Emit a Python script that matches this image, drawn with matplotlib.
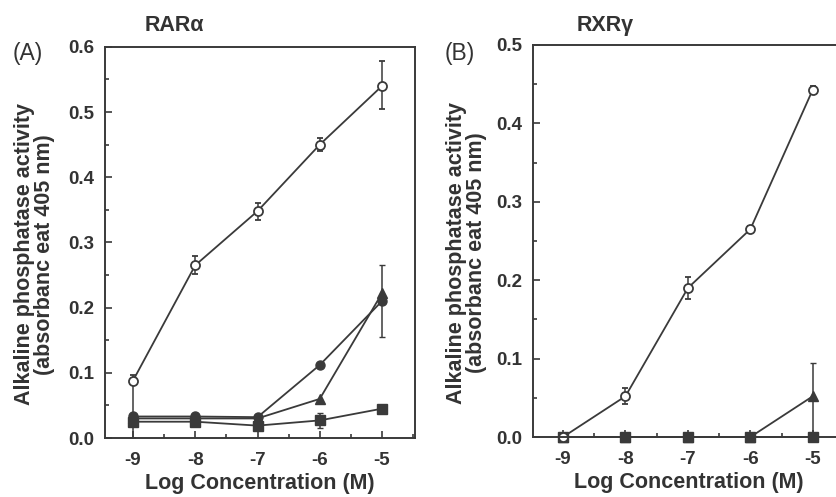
import matplotlib
matplotlib.use('Agg')
import matplotlib.pyplot as plt
from matplotlib.ticker import MultipleLocator, FormatStrFormatter

plt.rcParams['font.family'] = ['Liberation Sans', 'DejaVu Sans']
plt.rcParams['axes.unicode_minus'] = False

conc = [-9, -8, -7, -6, -5]

# panel A, RAR alpha
a_open = [0.088, 0.265, 0.348, 0.450, 0.540]
a_open_lo = [0.088, 0.014, 0.013, 0.010, 0.035]
a_open_hi = [0.008, 0.014, 0.013, 0.010, 0.038]
a_fcirc = [0.033, 0.033, 0.032, 0.112, 0.210]
a_fcirc_err = [0.0, 0.0, 0.0, 0.0, 0.055]
a_tri = [0.030, 0.030, 0.030, 0.060, 0.222]
a_sq = [0.025, 0.025, 0.019, 0.027, 0.045]
a_sq_err = [0.0, 0.0, 0.0, 0.012, 0.0]

# panel B, RXR gamma
b_open = [0.000, 0.052, 0.190, 0.265, 0.443]
b_open_err = [0.0, 0.010, 0.014, 0.004, 0.004]
b_fcirc = [0.0, 0.0, 0.0, 0.0, 0.0]
b_tri = [0.0, 0.0, 0.0, 0.0, 0.052]
b_tri_lo = [0.0, 0.0, 0.0, 0.0, 0.047]
b_tri_hi = [0.0, 0.0, 0.0, 0.0, 0.043]
b_sq = [0.0, 0.0, 0.0, 0.0, 0.0]

ink = '#3a3a3a'
txt = '#333333'

fig = plt.figure(figsize=(8.36, 4.97), dpi=100)
axA = fig.add_axes([0.1256, 0.1187, 0.3708, 0.787])
axB = fig.add_axes([0.6376, 0.1207, 0.372, 0.789])

def style(ax, ymax, ylab_x):
    ax.set_ylim(0, ymax)
    ax.xaxis.set_major_locator(MultipleLocator(1))
    ax.xaxis.set_minor_locator(MultipleLocator(0.5))
    ax.yaxis.set_major_locator(MultipleLocator(0.1))
    ax.yaxis.set_minor_locator(MultipleLocator(0.05))
    ax.xaxis.set_major_formatter(FormatStrFormatter('%d'))
    ax.yaxis.set_major_formatter(FormatStrFormatter('%.1f'))
    ax.tick_params(which='both', direction='in', colors=ink, width=1.2)
    ax.tick_params(which='major', length=5, labelsize=13.5, pad=8)
    ax.tick_params(axis='x', which='major', pad=10)
    ax.tick_params(which='minor', length=3)
    for s in ax.spines.values():
        s.set_color(ink)
        s.set_linewidth(1.4)
    for lab in ax.get_xticklabels() + ax.get_yticklabels():
        lab.set_fontweight('bold')
        lab.set_color(txt)
    ax.set_xlabel('Log Concentration (M)', fontsize=15.5, fontweight='bold', color=txt)
    ax.xaxis.set_label_coords(0.5, -0.09)
    ax.set_ylabel('Alkaline phosphatase activity\n(absorbanc eat 405 nm)', fontsize=15.5,
                  fontweight='bold', color=txt, linespacing=0.95)
    ax.yaxis.set_label_coords(ylab_x, 0.47)

kw = dict(color=ink, lw=1.3, ms=6.5, capsize=2.5, elinewidth=1.1, clip_on=False)

axA.errorbar(conc, a_sq, yerr=a_sq_err, marker='s', mfc=ink, mec=ink, **kw)
axA.errorbar(conc, a_tri, marker='^', mfc=ink, mec=ink, **kw)
axA.errorbar(conc, a_fcirc, yerr=a_fcirc_err, marker='o', mfc=ink, mec=ink, **kw)
axA.errorbar(conc, a_open, yerr=[a_open_lo, a_open_hi], marker='o', mfc='white', mec=ink, mew=1.3, **kw)
axA.set_xlim(-9.45, -4.47)
style(axA, 0.6, -0.16)

axB.errorbar(conc, b_sq, marker='s', mfc=ink, mec=ink, **kw)
axB.errorbar(conc, b_fcirc, marker='o', mfc=ink, mec=ink, **kw)
axB.errorbar(conc, b_tri, yerr=[b_tri_lo, b_tri_hi], marker='^', mfc=ink, mec=ink, **kw)
axB.errorbar(conc, b_open, yerr=b_open_err, marker='o', mfc='white', mec=ink, mew=1.3, **kw)
axB.set_xlim(-9.48, -4.5)
style(axB, 0.5, -0.148)

fig.text(0.015, 0.893, '(A)', fontsize=16.5, color=txt, va='center')
fig.text(0.208, 0.948, 'RARα', fontsize=15.5, fontweight='bold', color=txt, ha='center', va='center')
fig.text(0.532, 0.893, '(B)', fontsize=16.5, color=txt, va='center')
fig.text(0.724, 0.948, 'RXRγ', fontsize=15.5, fontweight='bold', color=txt, ha='center', va='center')

fig.savefig('out.png', dpi=100)
